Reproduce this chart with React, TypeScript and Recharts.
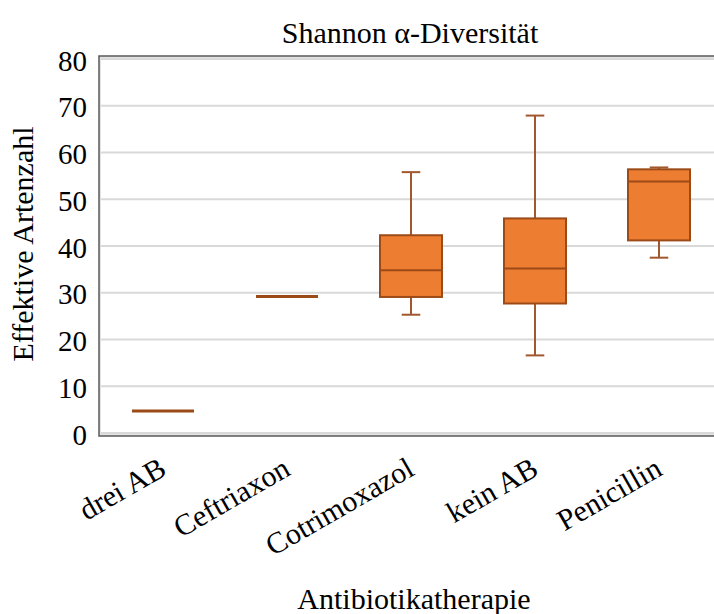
import React from 'react';
import {
  ComposedChart,
  Bar,
  XAxis,
  YAxis,
  CartesianGrid,
  ReferenceArea,
  Customized,
} from 'recharts';

const categories = ['drei AB', 'Ceftriaxon', 'Cotrimoxazol', 'kein AB', 'Penicillin'];
const mins = [4.7, 29.2, 25.3, 16.6, 37.5];
const q1s = [4.7, 29.2, 29.1, 27.7, 41.2];
const medians = [4.7, 29.2, 34.8, 35.2, 53.8];
const q3s = [4.7, 29.2, 42.3, 45.9, 56.4];
const maxs = [4.7, 29.2, 55.8, 67.9, 56.8];
const yTicks = [0, 10, 20, 30, 40, 50, 60, 70, 80];

const data = categories.map((name, i) => ({
  name,
  min: mins[i],
  q1: q1s[i],
  median: medians[i],
  q3: q3s[i],
  max: maxs[i],
}));

const FONT = "'Liberation Serif', 'Times New Roman', serif";
const FILL = '#ED7D31';
const BORDER = '#9C4A17';
const WHISKER = '#A2582E';

const BoxShape = (props: any) => {
  const { x, y, width, height, payload } = props;
  const bottom = y + height;
  const px = (v: number) => bottom - (v / payload.max) * height;
  const cx = x + width / 2;
  const cap = width * 0.15;
  if (payload.q3 - payload.q1 < 1e-9 && payload.max - payload.min < 1e-9) {
    const yy = px(payload.median);
    return <line x1={x} x2={x + width} y1={yy} y2={yy} stroke={BORDER} strokeWidth={3} />;
  }
  const yMin = px(payload.min);
  const yQ1 = px(payload.q1);
  const yMed = px(payload.median);
  const yQ3 = px(payload.q3);
  const yMax = px(payload.max);
  return (
    <g>
      <line x1={cx} x2={cx} y1={yMax} y2={yQ3} stroke={WHISKER} strokeWidth={2} />
      <line x1={cx} x2={cx} y1={yQ1} y2={yMin} stroke={WHISKER} strokeWidth={2} />
      <line x1={cx - cap} x2={cx + cap} y1={yMax} y2={yMax} stroke={WHISKER} strokeWidth={2} />
      <line x1={cx - cap} x2={cx + cap} y1={yMin} y2={yMin} stroke={WHISKER} strokeWidth={2} />
      <rect x={x} y={yQ3} width={width} height={yQ1 - yQ3} fill={FILL} stroke={BORDER} strokeWidth={2} />
      <line x1={x} x2={x + width} y1={yMed} y2={yMed} stroke={BORDER} strokeWidth={2} />
    </g>
  );
};

const FrameShape = (props: any) => {
  const { x, y, width, height } = props;
  return (
    <g>
      <rect x={x - 1} y={y - 2} width={width + 2} height={height + 4} fill="none" stroke="#E3E3E3" strokeWidth={2} />
      <rect x={x - 2} y={y - 3} width={width + 4} height={height + 6} fill="none" stroke="#5A5A5A" strokeWidth={1.5} />
    </g>
  );
};

const XTick = (props: any) => {
  const { x, y, payload } = props;
  const ax = x + 5;
  const ay = y + 41;
  return (
    <text
      x={ax}
      y={ay}
      transform={`rotate(-30, ${ax}, ${ay})`}
      textAnchor="end"
      fontFamily={FONT}
      fontSize={30}
      fill="#000"
    >
      {payload.value}
    </text>
  );
};

const YTick = (props: any) => {
  const { x, y, payload } = props;
  return (
    <text x={x} y={y + 11.5} textAnchor="end" fontFamily={FONT} fontSize={29} fill="#000">
      {payload.value}
    </text>
  );
};

const Titles = () => (
  <g>
    <text x={410} y={43} textAnchor="middle" fontFamily={FONT} fontSize={30} fill="#000">
      Shannon α-Diversität
    </text>
    <text x={414} y={609} textAnchor="middle" fontFamily={FONT} fontSize={30} fill="#000">
      Antibiotikatherapie
    </text>
    <text
      x={33}
      y={244}
      transform="rotate(-90, 33, 244)"
      textAnchor="middle"
      fontFamily={FONT}
      fontSize={30}
      fill="#000"
    >
      Effektive Artenzahl
    </text>
  </g>
);

export default function App() {
  return (
    <div style={{ position: 'absolute', left: 0, top: 0, width: 714, height: 614, overflow: 'hidden', background: '#fff' }}>
      <ComposedChart
        width={740}
        height={614}
        data={data}
        margin={{ top: 59, right: 19, bottom: 61, left: 31 }}
        barCategoryGap="25%"
      >
        <CartesianGrid vertical={false} stroke="#D9D9D9" strokeWidth={2} />
        <XAxis
          dataKey="name"
          height={120}
          axisLine={false}
          tickLine={false}
          tickSize={0}
          tickMargin={0}
          interval={0}
          tick={<XTick />}
        />
        <YAxis
          width={70}
          domain={[0, 80]}
          ticks={yTicks}
          axisLine={false}
          tickLine={false}
          tickSize={0}
          tickMargin={14}
          tick={<YTick />}
        />
        <ReferenceArea
          x1="drei AB"
          x2="Penicillin"
          y1={0}
          y2={80}
          shape={<FrameShape />}
          ifOverflow="visible"
        />
        <Bar
          dataKey={(d: any) => [0, d.max]}
          shape={<BoxShape />}
          isAnimationActive={false}
        />
        <Customized component={<Titles />} />
      </ComposedChart>
    </div>
  );
}
